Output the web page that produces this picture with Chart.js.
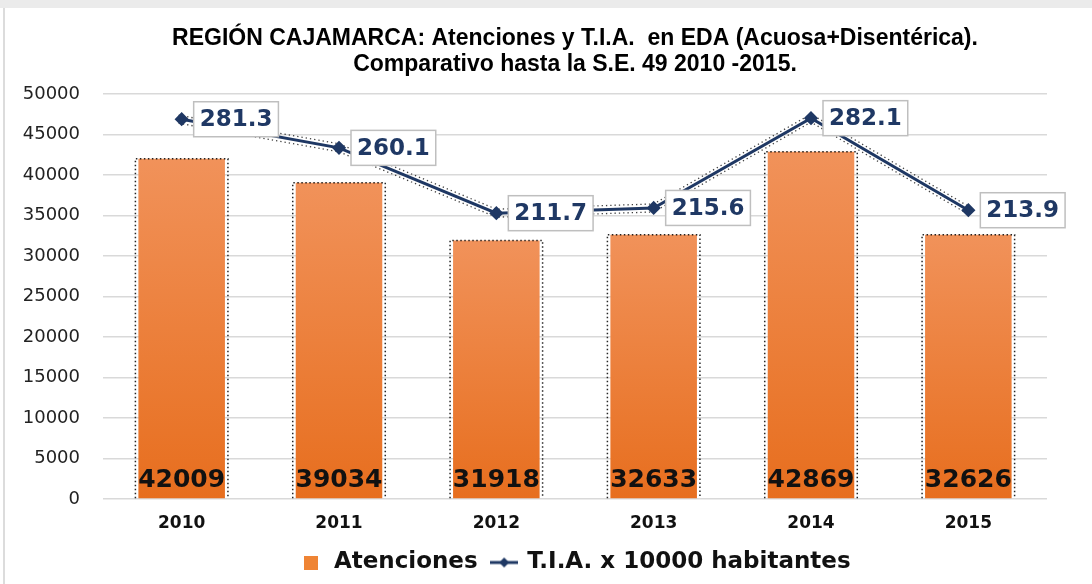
<!DOCTYPE html>
<html>
<head>
<meta charset="utf-8">
<script src="https://cdn.jsdelivr.net/npm/chart.js@4"></script>
<style>
  html, body { margin: 0; padding: 0; background: #fff; }
  #wrap { position: relative; width: 1092px; height: 584px; }
  #topband { position: absolute; left: 0; top: 0; width: 1092px; height: 8px; background: #ebebeb; }
  #leftline { position: absolute; left: 3px; top: 8px; width: 2px; height: 576px; background: #dcdcdc; }
  canvas { position: absolute; left: 0; top: 0; }
</style>
</head>
<body>
<div id="wrap">
  <div id="topband"></div>
  <div id="leftline"></div>
  <canvas id="edaChart" width="1092" height="584"></canvas>
</div>
<script>
// Data
const years = ['2010', '2011', '2012', '2013', '2014', '2015'];
const atenciones = [42009, 39034, 31918, 32633, 42869, 32626];
const tia = [281.3, 260.1, 211.7, 215.6, 282.1, 213.9];

const NAVY = '#1f3864';
const labelFont = '"DejaVu Sans", Verdana, sans-serif';

// bar gradient, lighter at each bar's top
function barGradient(context) {
  const chart = context.chart;
  const area = chart.chartArea;
  if (!area) return '#ee8036';
  const y = chart.scales.y;
  const top = y.getPixelForValue(context.raw);
  const base = y.getPixelForValue(0);
  const g = chart.ctx.createLinearGradient(0, top, 0, base);
  g.addColorStop(0, '#f1925a');
  g.addColorStop(1, '#e76e1e');
  return g;
}

// legend symbol: line with a diamond
function lineMarker() {
  const c = document.createElement('canvas');
  c.width = 28; c.height = 12;
  const x = c.getContext('2d');
  x.strokeStyle = NAVY; x.lineWidth = 3;
  x.beginPath(); x.moveTo(0, 6); x.lineTo(28, 6); x.stroke();
  x.fillStyle = NAVY;
  x.beginPath(); x.moveTo(14, 1); x.lineTo(19, 6); x.lineTo(14, 11); x.lineTo(9, 6); x.closePath(); x.fill();
  return c;
}
function boxMarker() {
  const c = document.createElement('canvas');
  c.width = 14; c.height = 14;
  const x = c.getContext('2d');
  x.fillStyle = '#ef8434';
  x.fillRect(0, 0, 14, 14);
  return c;
}

// dotted "shadow" around the line, drawn underneath it
const shadowPlugin = {
  id: 'edaShadow',
  afterDatasetDraw(chart, args) {
    if (args.index !== 0) return;
    const ctx = chart.ctx;
    const pts = chart.getDatasetMeta(1).data;
    ctx.save();
    ctx.strokeStyle = 'rgba(0,0,0,0.75)';
    ctx.lineWidth = 1.3;
    ctx.setLineDash([1.3, 3]);
    [-4, 4].forEach((off) => {
      ctx.beginPath();
      pts.forEach((p, i) => {
        if (i === 0) ctx.moveTo(p.x - 3, p.y + off);
        else ctx.lineTo(p.x, p.y + off);
      });
      ctx.stroke();
    });
    ctx.restore();
  }
};

// dotted "shadow" edges around bars + value labels
const labelsPlugin = {
  id: 'edaLabels',
  afterDatasetsDraw(chart) {
    const ctx = chart.ctx;
    const area = chart.chartArea;
    const barMeta = chart.getDatasetMeta(0);
    ctx.save();
    ctx.strokeStyle = 'rgba(0,0,0,0.85)';
    ctx.lineWidth = 1.5;
    ctx.setLineDash([1.5, 2.5]);
    barMeta.data.forEach((bar) => {
      const l = bar.x - bar.width / 2 - 3, r = bar.x + bar.width / 2 + 3;
      ctx.beginPath();
      ctx.moveTo(l, bar.base); ctx.lineTo(l, bar.y);
      ctx.lineTo(r, bar.y); ctx.lineTo(r, bar.base);
      ctx.stroke();
    });
    ctx.setLineDash([]);
    ctx.fillStyle = '#111';
    ctx.font = 'bold 25px ' + labelFont;
    ctx.textAlign = 'center';
    ctx.textBaseline = 'middle';
    barMeta.data.forEach((bar, i) => {
      ctx.fillText(String(atenciones[i]), bar.x, area.bottom - 19);
    });

    const lineMeta = chart.getDatasetMeta(1);
    ctx.font = 'bold 23px ' + labelFont;
    ctx.textAlign = 'left';
    lineMeta.data.forEach((pt, i) => {
      const txt = tia[i].toFixed(1);
      const w = ctx.measureText(txt).width + 12;
      const h = 35;
      const bx = pt.x + 12, by = pt.y - h / 2;
      ctx.fillStyle = '#fff';
      ctx.fillRect(bx, by, w, h);
      ctx.strokeStyle = '#bfbfbf';
      ctx.lineWidth = 1.5;
      ctx.strokeRect(bx, by, w, h);
      ctx.fillStyle = NAVY;
      ctx.fillText(txt, bx + 6, pt.y + 1);
    });
    ctx.restore();
  }
};

const edaChart = new Chart(document.getElementById('edaChart'), {
  type: 'bar',
  data: {
    labels: years,
    datasets: [
      {
        type: 'bar',
        label: 'Atenciones',
        data: atenciones,
        backgroundColor: barGradient,
        categoryPercentage: 1,
        barPercentage: 0.55,
        yAxisID: 'y',
        order: 2
      },
      {
        type: 'line',
        label: 'T.I.A. x 10000 habitantes',
        data: tia,
        borderColor: NAVY,
        backgroundColor: NAVY,
        borderWidth: 3,
        pointStyle: 'rectRot',
        pointRadius: 5,
        tension: 0,
        yAxisID: 'y1',
        order: 1
      }
    ]
  },
  options: {
    responsive: false,
    animation: false,
    layout: { padding: { left: 8, right: 45, top: 26, bottom: 0 } },
    plugins: {
      title: {
        display: true,
        fullSize: false,
        text: ['REGIÓN CAJAMARCA: Atenciones y T.I.A.  en EDA (Acuosa+Disentérica).', 'Comparativo hasta la S.E. 49 2010 -2015.'],
        color: '#000',
        font: { family: '"Liberation Sans", Arial, sans-serif', size: 23, weight: 'bold', lineHeight: '26px' },
        padding: { top: 0, bottom: 16 }
      },
      legend: {
        position: 'bottom',
        fullSize: false,
        labels: {
          color: '#111',
          font: { family: labelFont, size: 23, weight: 'bold' },
          usePointStyle: true,
          padding: 15,
          generateLabels(chart) {
            return chart.data.datasets.map((ds, i) => ({
              text: ds.label,
              datasetIndex: i,
              pointStyle: i === 0 ? boxMarker() : lineMarker(),
              fontColor: '#111',
              lineWidth: 0,
              hidden: false
            }));
          }
        }
      },
      tooltip: { enabled: false }
    },
    scales: {
      x: {
        grid: { display: false, drawTicks: false },
        border: { display: false },
        ticks: { color: '#111', font: { family: labelFont, size: 17, weight: 'bold' }, padding: 14 },
        afterFit(scale) { scale.height = 37; }
      },
      y: {
        min: 0,
        max: 50000,
        ticks: {
          stepSize: 5000,
          color: '#222',
          font: { family: labelFont, size: 18 },
          padding: 23,
          callback: (v) => String(v)
        },
        grid: { color: '#d9d9d9', lineWidth: 1.5, drawTicks: false },
        border: { display: false },
        afterFit(scale) { scale.width = 95; }
      },
      y1: {
        display: false,
        min: 0,
        max: 300
      }
    }
  },
  plugins: [shadowPlugin, labelsPlugin]
});
</script>
</body>
</html>
